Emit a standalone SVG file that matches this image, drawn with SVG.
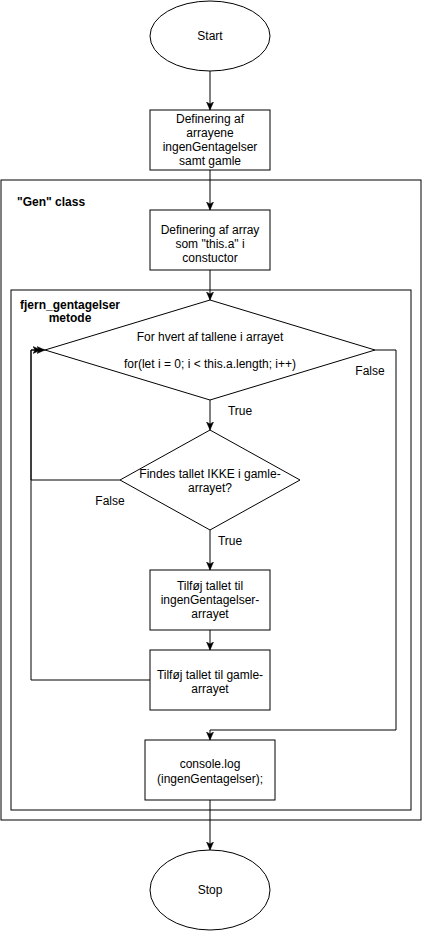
<svg xmlns="http://www.w3.org/2000/svg" width="422" height="932" viewBox="0 0 422 932">
<style>
.s{fill:#fff;stroke:#000;stroke-width:1}
.c{fill:none;stroke:#000;stroke-width:1}
text{font-family:"Liberation Sans",Arial,sans-serif;font-size:12px;fill:#000}
.m{text-anchor:middle}
.b{font-weight:bold}
</style>
<defs>
<marker id="a" markerUnits="userSpaceOnUse" viewBox="0 0 8 8" markerWidth="8" markerHeight="8" refX="8" refY="4" orient="auto">
<path d="M0,0.5 L8,4 L0,7.5 L2,4 z" fill="#000" stroke="#000" stroke-width="0.5"/>
</marker>
</defs>
<rect width="422" height="932" fill="#fff"/>
<g id="gen-class">
<rect class="s" x="1" y="180" width="420" height="640"/>
<text class="b" x="17" y="206">"Gen" class</text>
</g>
<g id="fjern-metode">
<rect class="s" x="11" y="290" width="400" height="520"/>
<text class="b m" x="70" y="309">fjern_gentagelser</text>
<text class="b m" x="70" y="322">metode</text>
</g>
<g id="start">
<ellipse class="s" cx="210" cy="36" rx="60" ry="35"/>
<text class="m" x="210" y="40">Start</text>
</g>
<g id="def-arrays">
<rect class="s" x="150" y="110" width="120" height="60"/>
<text class="m" x="210" y="123">Definering af</text>
<text class="m" x="210" y="137">arrayene</text>
<text class="m" x="210" y="151">ingenGentagelser</text>
<text class="m" x="210" y="165">samt gamle</text>
</g>
<g id="def-this-a">
<rect class="s" x="150" y="210" width="120" height="60"/>
<text class="m" x="210" y="234">Definering af array</text>
<text class="m" x="210" y="248">som "this.a" i</text>
<text class="m" x="210" y="262">constuctor</text>
</g>
<g id="for-loop">
<polygon class="s" points="210,300 375,350 210,400 45,350"/>
<text class="m" x="210" y="341">For hvert af tallene i arrayet</text>
<text class="m" x="210" y="368">for(let i = 0; i &lt; this.a.length; i++)</text>
</g>
<g id="findes">
<polygon class="s" points="210,430 300,480 210,530 120,480"/>
<text class="m" x="210" y="478">Findes tallet IKKE i gamle-</text>
<text class="m" x="210" y="492">arrayet?</text>
</g>
<g id="tilfoej-ingen">
<rect class="s" x="150" y="570" width="120" height="60"/>
<text class="m" x="210" y="590">Tilføj tallet til</text>
<text class="m" x="210" y="604">ingenGentagelser-</text>
<text class="m" x="210" y="618">arrayet</text>
</g>
<g id="tilfoej-gamle">
<rect class="s" x="150" y="650" width="120" height="60"/>
<text class="m" x="210" y="679">Tilføj tallet til gamle-</text>
<text class="m" x="210" y="693">arrayet</text>
</g>
<g id="console">
<rect class="s" x="145" y="740" width="130" height="60"/>
<text class="m" x="210" y="768">console.log</text>
<text class="m" x="210" y="783">(ingenGentagelser);</text>
</g>
<g id="stop">
<ellipse class="s" cx="210" cy="890" rx="60" ry="40"/>
<text class="m" x="210" y="894">Stop</text>
</g>
<g id="connectors">
<path class="c" d="M210,71 L210,110" marker-end="url(#a)"/>
<path class="c" d="M210,170 L210,210" marker-end="url(#a)"/>
<path class="c" d="M210,270 L210,300" marker-end="url(#a)"/>
<path class="c" d="M210,400 L210,430" marker-end="url(#a)"/>
<path class="c" d="M210,530 L210,570" marker-end="url(#a)"/>
<path class="c" d="M210,630 L210,650" marker-end="url(#a)"/>
<path class="c" d="M375,350 L396,350 L396,730 L210,730 L210,740" marker-end="url(#a)"/>
<path class="c" d="M120,480 L31,480 L31,350 L45,350" marker-end="url(#a)"/>
<path class="c" d="M150,680 L31,680 L31,350 L41,350" marker-end="url(#a)"/>
<path class="c" d="M210,800 L210,850" marker-end="url(#a)"/>
<text class="m" x="240" y="415">True</text>
<text class="m" x="370" y="375">False</text>
<text class="m" x="230" y="545">True</text>
<text class="m" x="110" y="505">False</text>
</g>
</svg>
